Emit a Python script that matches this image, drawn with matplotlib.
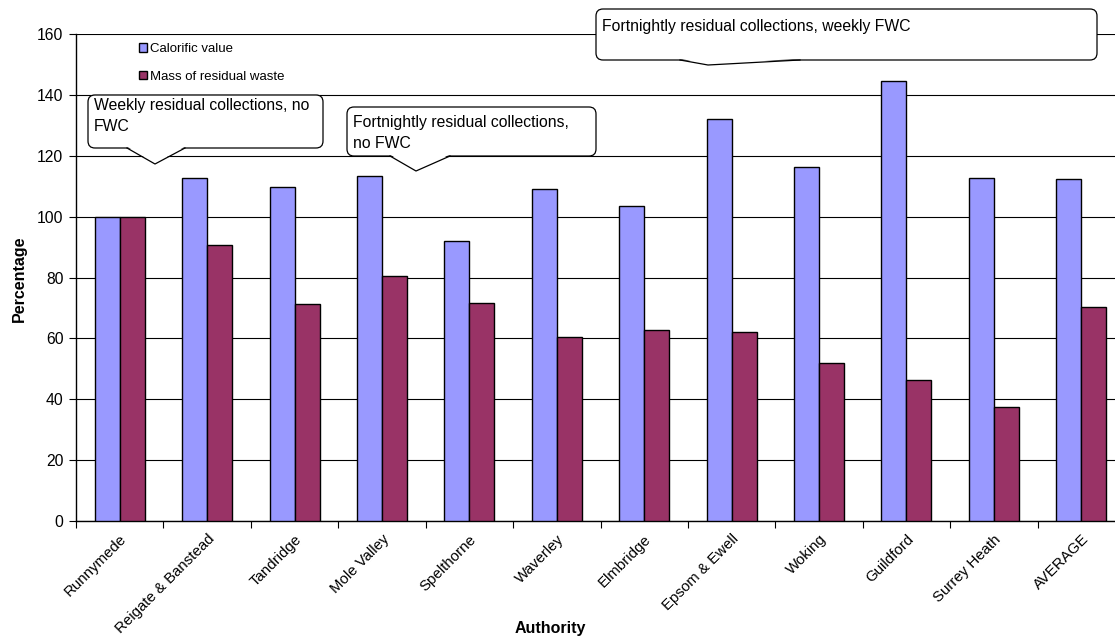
import matplotlib
matplotlib.use('Agg')
import matplotlib.pyplot as plt
import numpy as np
from matplotlib.patches import FancyBboxPatch, Polygon, Patch
from matplotlib.transforms import Affine2D

plt.rcParams['font.family'] = ['Liberation Sans', 'DejaVu Sans']

autoridades = ['Runnymede', 'Reigate & Banstead', 'Tandridge', 'Mole Valley',
               'Spelthorne', 'Waverley', 'Elmbridge', 'Epsom & Ewell',
               'Woking', 'Guildford', 'Surrey Heath', 'AVERAGE']
valor_calorifico = [100, 112.8, 109.8, 113.2, 92.0, 109.0, 103.6, 132.0,
                    116.3, 144.5, 112.8, 112.5]
massa_residuo = [100, 90.8, 71.2, 80.4, 71.5, 60.5, 62.7, 62.1,
                 51.8, 46.3, 37.4, 70.2]

# balões: texto, caixa (esq, topo, dir, base), ponteiro (base1, base2, ponta), topo do texto, em pixels
balões = [
    ("Weekly residual collections, no\nFWC", (88, 95, 323, 148), (127, 185, (155, 164)), 98),
    ("Fortnightly residual collections,\nno FWC", (347, 107, 596, 156), (390, 450, (416, 171)), 115),
    ("Fortnightly residual collections, weekly FWC", (596, 9, 1097, 60), (680, 800, (708, 65)), 19),
]

W, H = 1115, 641
fig = plt.figure(figsize=(W / 100, H / 100), dpi=100)
# o eixo continua um pouco além da borda direita da figura
ax = fig.add_axes([76 / W, 1 - 521 / H, 1049 / W, (521 - 34) / H])

x = np.arange(len(autoridades))
largura = 0.286
ax.bar(x - largura / 2, valor_calorifico, largura, color='#9999FF',
       edgecolor='black', linewidth=1, zorder=3)
ax.bar(x + largura / 2, massa_residuo, largura, color='#993366',
       edgecolor='black', linewidth=1, zorder=3)

ax.set_xlim(-0.5, len(autoridades) - 0.5)
ax.set_ylim(0, 160)
ax.set_yticks(np.arange(0, 161, 20))
ax.yaxis.grid(True, color='black', linewidth=0.8, zorder=0)
ax.set_axisbelow(True)

ax.set_xticks(x)
ax.set_xticklabels(autoridades, rotation=45, ha='right', rotation_mode='anchor',
                   fontsize=10.8)
ax.set_xticks(np.arange(-0.5, len(autoridades)), minor=True)
ax.tick_params(axis='x', which='major', length=0, pad=8)
ax.tick_params(axis='x', which='minor', length=5, width=0.8, direction='out')
ax.tick_params(axis='y', length=5, width=0.8, direction='out', labelsize=11.3, pad=4)

ax.spines['right'].set_visible(False)
ax.spines['top'].set_visible(False)
ax.spines['left'].set_linewidth(1)
ax.spines['bottom'].set_linewidth(1)

fig.text(19 / W, 1 - 279 / H, 'Percentage', fontsize=11.5, fontweight='bold',
         rotation=90, ha='center', va='center')
fig.text(550 / W, 1 - 629 / H, 'Authority', fontsize=11.5, fontweight='bold',
         ha='center', va='center')

handles = [Patch(facecolor='#9999FF', edgecolor='black', linewidth=1),
           Patch(facecolor='#993366', edgecolor='black', linewidth=1)]
fig.legend(handles, ['Calorific value', 'Mass of residual waste'], loc='upper left',
           bbox_to_anchor=(139 / W, 1 - 43 / H), bbox_transform=fig.transFigure,
           frameon=False, fontsize=9.5, handlelength=0.6, handleheight=0.6,
           handletextpad=0.2, labelspacing=1.2, borderaxespad=0, borderpad=0)

# coordenadas em pixels, y medido a partir do topo
tr_px = Affine2D().scale(1 / W, -1 / H).translate(0, 1) + fig.transFigure
for texto, (l, t, r, b), (b1, b2, ponta), y_texto in balões:
    caixa = FancyBboxPatch((l, t), r - l, b - t, boxstyle='round,pad=0,rounding_size=7',
                           facecolor='white', edgecolor='black', linewidth=0.9,
                           transform=tr_px, zorder=10)
    fig.add_artist(caixa)
    tampa = Polygon([(b1, b - 1.5), ponta, (b2, b - 1.5)], closed=True, facecolor='white',
                    edgecolor='none', transform=tr_px, zorder=11)
    fig.add_artist(tampa)
    contorno = plt.Line2D([b1, ponta[0], b2], [b, ponta[1], b], color='black',
                          linewidth=0.9, transform=tr_px, zorder=12)
    fig.add_artist(contorno)
    fig.text((l + 6) / W, 1 - y_texto / H, texto, fontsize=11.3, ha='left', va='top',
             linespacing=1.5, zorder=13)

fig.savefig('out.png', dpi=100)
